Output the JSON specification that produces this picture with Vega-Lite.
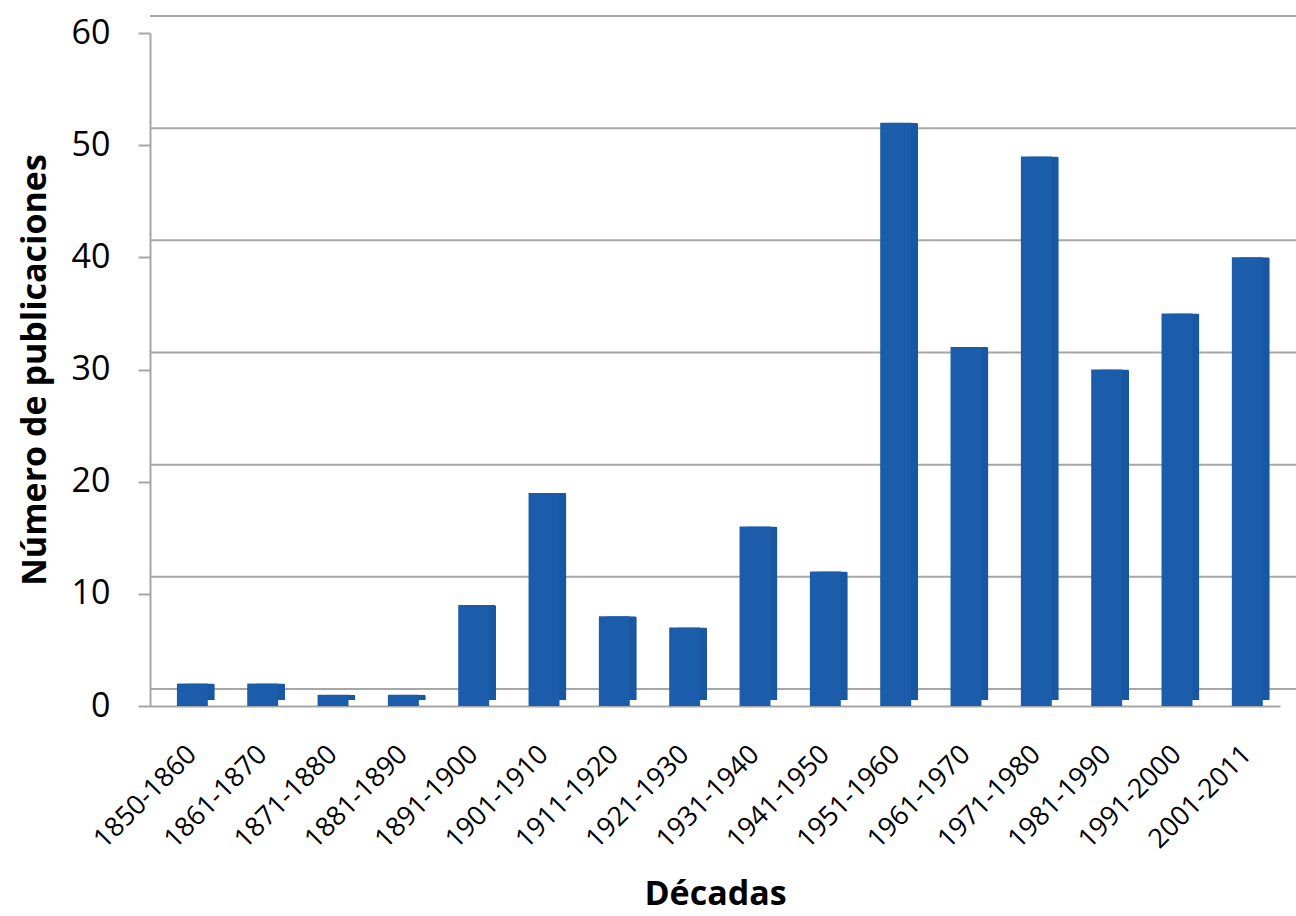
{
  "$schema": "https://vega.github.io/schema/vega-lite/v6.json",
  "width": 1130,
  "height": 673,
  "autosize": "none",
  "padding": {"left": 150, "top": 33, "right": 16, "bottom": 210},
  "background": "white",
  "config": {"view": {"stroke": null}, "font": "Open Sans"},
  "datasets": {
    "bars": [
      {"decada": "1850-1860", "n": 2},
      {"decada": "1861-1870", "n": 2},
      {"decada": "1871-1880", "n": 1},
      {"decada": "1881-1890", "n": 1},
      {"decada": "1891-1900", "n": 9},
      {"decada": "1901-1910", "n": 19},
      {"decada": "1911-1920", "n": 8},
      {"decada": "1921-1930", "n": 7},
      {"decada": "1931-1940", "n": 16},
      {"decada": "1941-1950", "n": 12},
      {"decada": "1951-1960", "n": 52},
      {"decada": "1961-1970", "n": 32},
      {"decada": "1971-1980", "n": 49},
      {"decada": "1981-1990", "n": 30},
      {"decada": "1991-2000", "n": 35},
      {"decada": "2001-2011", "n": 40}
    ],
    "grid": [{"g": 0}, {"g": 10}, {"g": 20}, {"g": 30}, {"g": 40}, {"g": 50}, {"g": 60}]
  },
  "layer": [
    {
      "data": {"name": "grid"},
      "mark": {"type": "rule", "color": "#a6a6a6", "strokeWidth": 2, "yOffset": -17, "xOffset": 20},
      "encoding": {
        "y": {"field": "g", "type": "quantitative", "scale": {"domain": [0, 60]}}
      }
    },
    {
      "data": {"name": "bars"},
      "encoding": {
        "x": {
          "field": "decada",
          "type": "nominal",
          "sort": null,
          "scale": {"paddingInner": 0.56, "paddingOuter": 0.3135, "align": 0.61},
          "title": "Décadas",
          "axis": {
            "labelAngle": -45,
            "labelAlign": "right",
            "labelBaseline": "middle",
            "labelFontSize": 27,
            "labelColor": "#000000",
            "labelPadding": 44,
            "ticks": false,
            "domainColor": "#a6a6a6",
            "domainWidth": 2,
            "titleFontSize": 34,
            "titleFontWeight": "bold",
            "titleColor": "#000000",
            "titlePadding": 25
          }
        },
        "y": {
          "field": "n",
          "type": "quantitative",
          "scale": {"domain": [0, 60]},
          "title": "Número de publicaciones",
          "axis": {
            "values": [0, 10, 20, 30, 40, 50, 60],
            "grid": false,
            "labelFontSize": 34,
            "labelColor": "#000000",
            "labelPadding": 28,
            "tickSize": 12,
            "tickColor": "#a6a6a6",
            "tickWidth": 2,
            "domainColor": "#a6a6a6",
            "domainWidth": 2,
            "titleFontSize": 34,
            "titleFontWeight": "bold",
            "titleColor": "#000000",
            "titlePadding": 19
          }
        }
      },
      "layer": [
        {"mark": {"type": "bar", "color": "#1a57a2", "xOffset": 7, "yOffset": -6, "cornerRadius": 2}},
        {"mark": {"type": "bar", "color": "#1b5dab"}}
      ]
    }
  ]
}
